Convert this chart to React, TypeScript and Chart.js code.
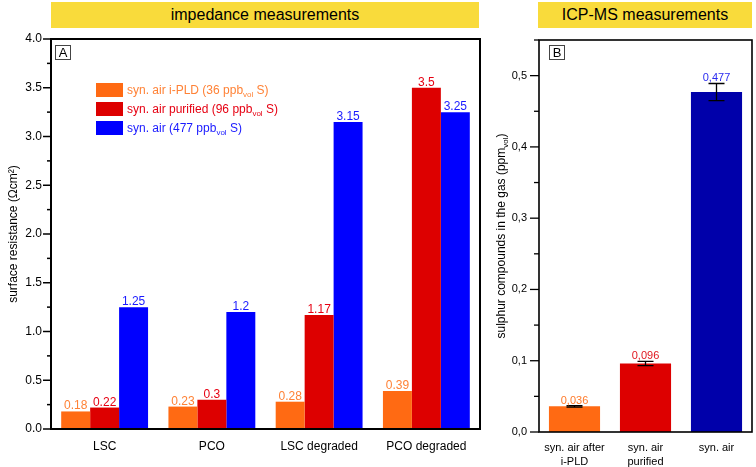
import React, { useEffect, useRef } from "react";
import { Chart, registerables } from "chart.js";

Chart.register(...registerables);

const FONT = '"Liberation Sans", Arial, sans-serif';

// ---------- Data: impedance measurements (panel A) ----------
const impedanceCategories = ["LSC", "PCO", "LSC degraded", "PCO degraded"];
const iPLDValues = [0.18, 0.23, 0.28, 0.39];
const purifiedValues = [0.22, 0.3, 1.17, 3.5];
const synAirValues = [1.25, 1.2, 3.15, 3.25];
const impedanceSeriesNames = ["syn. air i-PLD (36 ppb", "syn. air purified (96 ppb", "syn. air (477 ppb"];
const impedanceYMin = 0;
const impedanceYMax = 4;

// ---------- Data: ICP-MS measurements (panel B) ----------
const icpCategories = [["syn. air after", "i-PLD"], ["syn. air", "purified"], ["syn. air"]];
const icpValues = [0.036, 0.096, 0.477];
const icpErrors = [0.001, 0.003, 0.012];
const icpYMin = 0;
const icpYMax = 0.55;

// ---------- Styles ----------
const barColors = ["#FF6A13", "#DD0000", "#0000FF"];
const labelColors = ["#FF8236", "#E60012", "#1A1AFF"];
const icpBarColors = ["#FF6A13", "#DD0000", "#0000AA"];
const icpLabelColors = ["#FF7A2A", "#E0161E", "#2B2BF0"];

function drawBoxLetter(ctx: CanvasRenderingContext2D, x: number, y: number, letter: string) {
  ctx.save();
  ctx.fillStyle = "#ffffff";
  ctx.fillRect(x, y, 16, 15);
  ctx.strokeStyle = "#444";
  ctx.lineWidth = 1;
  ctx.strokeRect(x + 0.5, y + 0.5, 15, 14);
  ctx.fillStyle = "#000";
  ctx.font = `13px ${FONT}`;
  ctx.textAlign = "center";
  ctx.textBaseline = "middle";
  ctx.fillText(letter, x + 8, y + 8);
  ctx.restore();
}

const impedancePlugin = {
  id: "impedanceDecor",
  afterDraw(chart: any) {
    const ctx: CanvasRenderingContext2D = chart.ctx;
    const a = chart.chartArea;
    const ys = chart.scales.y;
    ctx.save();
    ctx.strokeStyle = "#000";
    ctx.lineWidth = 2;
    ctx.strokeRect(a.left, a.top, a.right - a.left, a.bottom - a.top);
    ctx.lineWidth = 1.5;
    for (let i = 0; i <= 16; i++) {
      const v = impedanceYMin + i * 0.25;
      const y = ys.getPixelForValue(v);
      const len = i % 2 === 0 ? 8 : 4;
      ctx.beginPath();
      ctx.moveTo(a.left - len, y);
      ctx.lineTo(a.left, y);
      ctx.stroke();
    }
    ctx.font = `12px ${FONT}`;
    ctx.textAlign = "center";
    ctx.textBaseline = "alphabetic";
    chart.data.datasets.forEach((ds: any, di: number) => {
      const meta = chart.getDatasetMeta(di);
      meta.data.forEach((bar: any, j: number) => {
        ctx.fillStyle = labelColors[di];
        ctx.fillText(String(ds.data[j]), bar.x, bar.y - 2);
      });
    });
    drawBoxLetter(ctx, a.left + 4, a.top + 6, "A");
    const rows = [83, 102, 121];
    rows.forEach((ry, i) => {
      ctx.fillStyle = barColors[i];
      ctx.fillRect(96, ry, 27, 14);
      let x = 127;
      const cy = ry + 7.5;
      ctx.fillStyle = labelColors[i];
      ctx.textAlign = "left";
      ctx.textBaseline = "middle";
      ctx.font = `12px ${FONT}`;
      ctx.fillText(impedanceSeriesNames[i], x, cy);
      x += ctx.measureText(impedanceSeriesNames[i]).width;
      ctx.font = `8px ${FONT}`;
      ctx.fillText("vol", x, cy + 4);
      x += ctx.measureText("vol").width;
      ctx.font = `12px ${FONT}`;
      ctx.fillText(" S)", x, cy);
    });
    ctx.translate(14, (a.top + a.bottom) / 2);
    ctx.rotate(-Math.PI / 2);
    ctx.fillStyle = "#000";
    ctx.font = `12px ${FONT}`;
    ctx.textAlign = "center";
    ctx.textBaseline = "middle";
    ctx.fillText("surface resistance (\u03A9cm\u00B2)", 0, 0);
    ctx.restore();
  },
};

const icpPlugin = {
  id: "icpDecor",
  afterDraw(chart: any) {
    const ctx: CanvasRenderingContext2D = chart.ctx;
    const a = chart.chartArea;
    const ys = chart.scales.y;
    ctx.save();
    ctx.strokeStyle = "#000";
    ctx.lineWidth = 1.6;
    ctx.strokeRect(a.left, a.top, a.right - a.left, a.bottom - a.top);
    ctx.lineWidth = 1.3;
    for (let i = 0; i <= 11; i++) {
      const v = icpYMin + i * 0.05;
      if (v > icpYMax + 1e-9) break;
      const y = ys.getPixelForValue(v);
      const len = i % 2 === 0 ? 9 : 5;
      ctx.beginPath();
      ctx.moveTo(a.left - len, y);
      ctx.lineTo(a.left, y);
      ctx.stroke();
    }
    const meta = chart.getDatasetMeta(0);
    meta.data.forEach((bar: any, j: number) => {
      const v = icpValues[j];
      const e = icpErrors[j];
      const yTop = ys.getPixelForValue(v + e);
      const yBot = ys.getPixelForValue(v - e);
      ctx.strokeStyle = "#000";
      ctx.lineWidth = 1.3;
      ctx.beginPath();
      ctx.moveTo(bar.x, yTop);
      ctx.lineTo(bar.x, yBot);
      ctx.moveTo(bar.x - 8, yTop);
      ctx.lineTo(bar.x + 8, yTop);
      ctx.moveTo(bar.x - 8, yBot);
      ctx.lineTo(bar.x + 8, yBot);
      ctx.stroke();
      ctx.fillStyle = icpLabelColors[j];
      ctx.font = `11px ${FONT}`;
      ctx.textAlign = "center";
      ctx.textBaseline = "alphabetic";
      ctx.fillText(v.toFixed(3).replace(".", ","), bar.x, yTop - 2);
    });
    drawBoxLetter(ctx, a.left + 10, a.top + 5, "B");
    ctx.translate(12, (a.top + a.bottom) / 2);
    ctx.rotate(-Math.PI / 2);
    ctx.fillStyle = "#000";
    ctx.textAlign = "left";
    ctx.textBaseline = "middle";
    const main = "sulphur compounds in the gas (ppm";
    ctx.font = `12px ${FONT}`;
    const w1 = ctx.measureText(main).width;
    const w3 = ctx.measureText(")").width;
    ctx.font = `8px ${FONT}`;
    const w2 = ctx.measureText("vol").width;
    let x = -(w1 + w2 + w3) / 2;
    ctx.font = `12px ${FONT}`;
    ctx.fillText(main, x, 0);
    x += w1;
    ctx.font = `8px ${FONT}`;
    ctx.fillText("vol", x, 4);
    x += w2;
    ctx.font = `12px ${FONT}`;
    ctx.fillText(")", x, 0);
    ctx.restore();
  },
};

function ImpedanceChart() {
  const ref = useRef<HTMLCanvasElement>(null);
  useEffect(() => {
    if (!ref.current) return;
    const chart = new Chart(ref.current, {
      type: "bar",
      data: {
        labels: impedanceCategories,
        datasets: [
          { label: "i-PLD", data: iPLDValues, backgroundColor: barColors[0], borderWidth: 0 },
          { label: "purified", data: purifiedValues, backgroundColor: barColors[1], borderWidth: 0 },
          { label: "syn. air", data: synAirValues, backgroundColor: barColors[2], borderWidth: 0 },
        ],
      },
      options: {
        responsive: false,
        animation: false,
        devicePixelRatio: 1,
        layout: { padding: { left: 0, right: 10, top: 39, bottom: 0 } },
        datasets: { bar: { categoryPercentage: 0.81, barPercentage: 1.0 } },
        plugins: { legend: { display: false }, tooltip: { enabled: false } },
        scales: {
          x: {
            grid: { display: false, drawTicks: false },
            border: { display: false },
            ticks: { color: "#000", font: { family: FONT, size: 12 }, padding: 10, maxRotation: 0, minRotation: 0, autoSkip: false },
            afterFit: (s: any) => { s.height = 38; },
          },
          y: {
            min: impedanceYMin,
            max: impedanceYMax,
            grid: { display: false, drawTicks: false },
            border: { display: false },
            ticks: {
              stepSize: 0.5,
              color: "#000",
              font: { family: FONT, size: 12 },
              padding: 9,
              callback: (v: any) => Number(v).toFixed(1),
            },
            afterFit: (s: any) => { s.width = 51; },
          },
        },
      },
      plugins: [impedancePlugin],
    } as any);
    return () => chart.destroy();
  }, []);
  return <canvas ref={ref} width={490} height={467} style={{ position: "absolute", left: 0, top: 0, width: 490, height: 467 }} />;
}

function IcpChart() {
  const ref = useRef<HTMLCanvasElement>(null);
  useEffect(() => {
    if (!ref.current) return;
    const chart = new Chart(ref.current, {
      type: "bar",
      data: {
        labels: icpCategories,
        datasets: [{ label: "ICP-MS", data: icpValues, backgroundColor: icpBarColors, borderWidth: 0 }],
      },
      options: {
        responsive: false,
        animation: false,
        devicePixelRatio: 1,
        layout: { padding: { left: 0, right: 4, top: 40, bottom: 0 } },
        datasets: { bar: { categoryPercentage: 1.0, barPercentage: 0.72 } },
        plugins: { legend: { display: false }, tooltip: { enabled: false } },
        scales: {
          x: {
            grid: { display: false, drawTicks: false },
            border: { display: false },
            ticks: { color: "#000", font: { family: FONT, size: 11, lineHeight: 1.36 }, padding: 8, maxRotation: 0, minRotation: 0, autoSkip: false },
            afterFit: (s: any) => { s.height = 35; },
          },
          y: {
            min: icpYMin,
            max: icpYMax,
            grid: { display: false, drawTicks: false },
            border: { display: false },
            ticks: {
              stepSize: 0.1,
              includeBounds: false,
              color: "#000",
              font: { family: FONT, size: 11 },
              padding: 12,
              callback: (v: any) => {
                const n = Number(v);
                if (Math.abs(n * 10 - Math.round(n * 10)) > 1e-6) return "";
                return n.toFixed(1).replace(".", ",");
              },
            },
            afterFit: (s: any) => { s.width = 49; },
          },
        },
      },
      plugins: [icpPlugin],
    } as any);
    return () => chart.destroy();
  }, []);
  return <canvas ref={ref} width={266} height={467} style={{ position: "absolute", left: 490, top: 0, width: 266, height: 467 }} />;
}

const bannerStyle: React.CSSProperties = {
  position: "absolute",
  top: 2,
  height: 26,
  background: "#F9DB3B",
  color: "#000",
  fontFamily: FONT,
  fontSize: 16,
  lineHeight: "26px",
  textAlign: "center",
};

export default function App() {
  return (
    <div style={{ position: "fixed", left: 0, top: 0, width: 756, height: 467, background: "#fff", overflow: "hidden" }}>
      <ImpedanceChart />
      <IcpChart />
      <div style={{ ...bannerStyle, left: 51, width: 428 }}>impedance measurements</div>
      <div style={{ ...bannerStyle, left: 538, width: 214 }}>ICP-MS measurements</div>
    </div>
  );
}
